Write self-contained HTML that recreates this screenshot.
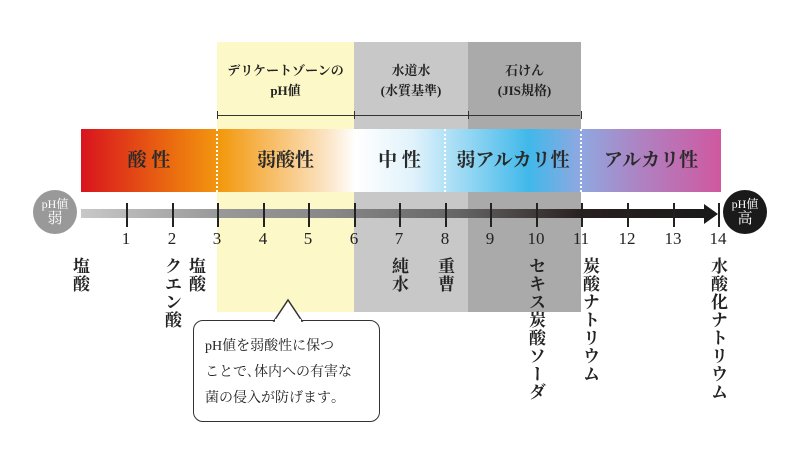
<!DOCTYPE html>
<html><head><meta charset="utf-8"><style>
body{margin:0;width:800px;height:462px;background:#fff;position:relative;overflow:hidden;font-family:"Liberation Serif","Noto Serif CJK SC",serif;color:#222}
div{position:absolute}
.v{writing-mode:vertical-rl;font-size:17px;font-weight:bold;letter-spacing:1px;line-height:1;color:#222}
.n{font-size:17px;top:229px;width:30px;text-align:center;color:#222}
.t{width:1.5px;background:#222;top:203px;height:24px}
.b{top:129px;height:63px;font-size:19px;font-weight:bold;line-height:63px;text-align:center;color:#2a2a2a}
.h{top:61px;text-align:center;font-size:13px;line-height:20px;font-weight:bold;color:#222}
</style></head><body>
<div style="left:217px;top:42px;width:137px;height:270px;background:#fdf8c8"></div>
<div style="left:354px;top:42px;width:114px;height:270px;background:#c8c8c8"></div>
<div style="left:468px;top:42px;width:113px;height:270px;background:#aaaaaa"></div>
<div class="h" style="left:217px;width:137px">デリケートゾーンの<br>pH値</div>
<div class="h" style="left:354px;width:114px">水道水<br>(水質基準)</div>
<div class="h" style="left:468px;width:113px">石けん<br>(JIS規格)</div>
<div style="left:218px;top:115px;width:362px;height:1px;background:#333"></div>
<div style="left:217px;top:111px;width:1px;height:8px;background:#333"></div>
<div style="left:354px;top:111px;width:1px;height:8px;background:#333"></div>
<div style="left:468px;top:111px;width:1px;height:8px;background:#333"></div>
<div style="left:581px;top:111px;width:1px;height:8px;background:#333"></div>
<div style="left:81px;top:129px;width:640px;height:63px;background:linear-gradient(90deg,#d8141e 0%,#ea6a10 14%,#f39a10 22%,#fbe2c0 38%,#fff 43%,#e0f2fb 52%,#40b8ea 70%,#8fa8e0 78%,#b080c0 88%,#d058a0 100%)"></div>
<div style="left:216px;top:129px;width:0;height:63px;border-left:2px dotted #fff"></div>
<div style="left:353px;top:129px;width:0;height:63px;border-left:2px dotted #fff"></div>
<div style="left:444px;top:129px;width:0;height:63px;border-left:2px dotted #fff"></div>
<div style="left:580px;top:129px;width:0;height:63px;border-left:2px dotted #fff"></div>
<div class="b" style="left:81px;width:136px">酸 性</div>
<div class="b" style="left:217px;width:137px">弱酸性</div>
<div class="b" style="left:354px;width:91px">中 性</div>
<div class="b" style="left:445px;width:136px">弱アルカリ性</div>
<div class="b" style="left:581px;width:140px">アルカリ性</div>
<div style="left:81px;top:209px;width:625px;height:9px;background:linear-gradient(90deg,#c8c8c8,#999 22%,#888 40%,#666 60%,#2a2020 80%,#1a1a1a)"></div>
<div style="left:704px;top:204px;width:0;height:0;border-left:14px solid #1a1a1a;border-top:10px solid transparent;border-bottom:10px solid transparent"></div>
<div style="left:33px;top:190px;width:44px;height:44px;border-radius:50%;background:#999;color:#fff;font-size:12px;line-height:15px;text-align:center;padding-top:7px;box-sizing:border-box">pH値<br><span style="font-size:15px">弱</span></div>
<div style="left:723px;top:190px;width:44px;height:44px;border-radius:50%;background:#1a1a1a;color:#fff;font-size:12px;line-height:15px;text-align:center;padding-top:7px;box-sizing:border-box">pH値<br><span style="font-size:15px">高</span></div>
<div class="t" style="left:126px"></div><div class="t" style="left:172px"></div><div class="t" style="left:217px"></div><div class="t" style="left:263px"></div><div class="t" style="left:308px"></div><div class="t" style="left:354px"></div><div class="t" style="left:399px"></div><div class="t" style="left:445px"></div><div class="t" style="left:490px"></div><div class="t" style="left:536px"></div><div class="t" style="left:581px"></div><div class="t" style="left:627px"></div><div class="t" style="left:673px"></div><div class="t" style="left:718px"></div>
<div class="n" style="left:111px">1</div><div class="n" style="left:157px">2</div><div class="n" style="left:202px">3</div><div class="n" style="left:248px">4</div><div class="n" style="left:293px">5</div><div class="n" style="left:339px">6</div><div class="n" style="left:384px">7</div><div class="n" style="left:430px">8</div><div class="n" style="left:475px">9</div><div class="n" style="left:521px">10</div><div class="n" style="left:566px">11</div><div class="n" style="left:612px">12</div><div class="n" style="left:658px">13</div><div class="n" style="left:703px">14</div>
<div class="v" style="left:71px;top:257px">塩酸</div>
<div class="v" style="left:163px;top:257px">クエン酸</div>
<div class="v" style="left:187px;top:257px">塩酸</div>
<div class="v" style="left:390px;top:257px">純水</div>
<div class="v" style="left:436px;top:257px">重曹</div>
<div class="v" style="left:527px;top:257px">セキス炭酸ソーダ</div>
<div class="v" style="left:581px;top:257px">炭酸ナトリウム</div>
<div class="v" style="left:709px;top:257px">水酸化ナトリウム</div>
<div style="left:193px;top:320px;width:187px;height:102px;border:1.5px solid #333;border-radius:10px;background:#fff;box-sizing:border-box;padding:13px 0 0 11px;font-size:14px;line-height:26px;color:#222;white-space:nowrap">pH値を弱酸性に保つ<br>ことで､体内への有害な<br>菌の侵入が防げます｡</div>
<svg style="position:absolute;left:270px;top:298px" width="36" height="24"><polygon points="4,23 18,2 32,23" fill="#fff" stroke="#333" stroke-width="1.5"/><rect x="5" y="21" width="26" height="4" fill="#fff"/></svg>
</body></html>
